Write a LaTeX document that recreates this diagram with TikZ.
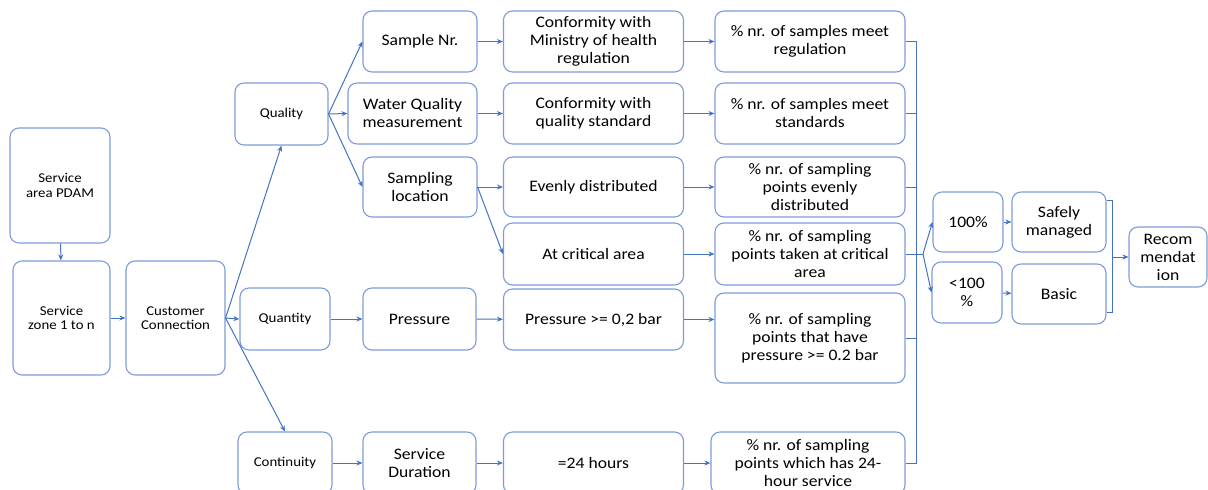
\documentclass[tikz,border=0pt]{standalone}
\usepackage{fontspec}
\setmainfont{Carlito}[FakeStretch=1.1]
\usetikzlibrary{arrows.meta}

\definecolor{boxblue}{RGB}{125,155,218}
\definecolor{lineblue}{RGB}{68,114,196}

\tikzset{%
   block/.style={
    draw=boxblue,
    line width=1.1pt,
    rounded corners=9pt,
    align=center,
    inner sep=2pt,
    text=black,
    font=\fontsize{16}{18}\selectfont
  },
   small block/.style={
    block,
    font=\fontsize{13.5}{14.5}\selectfont
  },
   link/.style={draw=lineblue, line width=1pt},
}

\begin{document}
\begin{tikzpicture}[x=1pt, y=-1pt, >={Stealth[length=6pt,width=5pt]}]
\useasboundingbox (0,0) rectangle (1208,490);
%=========================================================================================================
% Service area and customers
%=========================================================================================================
\node [small block, minimum width=100pt, minimum height=115pt] (area) at (60,185.5) {Service\\area PDAM};
\node [small block, minimum width=97pt, minimum height=114pt] (zone) at (61.5,318) {Service\\zone 1 to n};
\node [small block, minimum width=99pt, minimum height=114pt] (cust) at (175.5,318) {Customer\\Connection};

%=========================================================================================================
% Aspects
%=========================================================================================================
\node [small block, minimum width=93pt, minimum height=62pt] (quality) at (281.5,114) {Quality};
\node [small block, minimum width=90pt, minimum height=62pt] (quantity) at (285,319) {Quantity};
\node [small block, minimum width=94pt, minimum height=62pt] (continuity) at (285,463) {Continuity};

%=========================================================================================================
% Parameters
%=========================================================================================================
\node [block, minimum width=114pt, minimum height=61pt] (samplenr) at (420,41.5) {Sample Nr.};
\node [block, minimum width=129pt, minimum height=61pt] (wqm) at (412.5,113.5) {Water Quality\\measurement};
\node [block, minimum width=114pt, minimum height=60pt] (samploc) at (420,187) {Sampling\\location};
\node [block, minimum width=113pt, minimum height=62pt] (pressure) at (419.5,319) {Pressure};
\node [block, minimum width=113pt, minimum height=62pt] (duration) at (419.5,463) {Service\\Duration};

%=========================================================================================================
% Criteria
%=========================================================================================================
\foreach \n/\t/\y/\h in {conf1/{Conformity with\\Ministry of health\\regulation}/41.5/61,
                          conf2/{Conformity with\\quality standard}/113.5/61,
                          even/{Evenly distributed}/187/60,
                          critical/{At critical area}/254/62,
                          pbar/{Pressure >= 0,2 bar}/319.5/61,
                          hours/{=24 hours}/463/62}
  \node [block, minimum width=180pt, minimum height=\h pt] (\n) at (593.5,\y) {\t};

%=========================================================================================================
% Indicators
%=========================================================================================================
\foreach \t/\y/\h [count=\i] in {{\% nr. of samples meet\\regulation}/41.5/61,
                                  {\% nr. of samples meet\\standards}/113.5/61,
                                  {\% nr. of sampling\\points evenly\\distributed}/187/60,
                                  {\% nr. of sampling\\points taken at critical\\area}/254/62,
                                  {\% nr. of sampling\\points that have\\pressure >= 0.2 bar}/338/90}
  \node [block, minimum width=190pt, minimum height=\h pt] (pct\i) at (810,\y) {\t};
\node [block, minimum width=194pt, minimum height=62pt] (pct6) at (808,463) {\% nr. of sampling\\points which has 24-\\hour service};

%=========================================================================================================
% Results
%=========================================================================================================
\node [block, minimum width=70pt, minimum height=60pt] (p100) at (968,222) {100\%};
\node [block, minimum width=70pt, minimum height=61pt] (p99) at (967,292.5) {<100\\\%};
\node [block, minimum width=94pt, minimum height=60pt] (safe) at (1059,222) {Safely\\managed};
\node [block, minimum width=94pt, minimum height=60pt] (basic) at (1059,294) {Basic};
\node [block, minimum width=78pt, minimum height=60pt] (recom) at (1168,257) {Recom\\mendat\\ion};

%=========================================================================================================
% Draw connections
%=========================================================================================================
\draw [link, ->] (area) -- (zone);
\draw [link, ->] (zone) -- (cust);

%fan out of the customer connection
\foreach \j/\a in {quality/south, quantity/west, continuity/north}
  \draw [link, ->] (cust.east) -- (\j.\a);

%fan out of quality
\foreach \j in {samplenr, wqm, samploc}
  \draw [link, ->] (quality.east) -- (\j.west);

\draw [link, ->] (samploc.east) -- (even.west);
\draw [link, ->] (samploc.east) -- (critical.west);

%rows
\foreach \i/\j in {samplenr/conf1, wqm/conf2, quantity/pressure, pressure/pbar, continuity/duration, duration/hours}
  \draw [link, ->] (\i) -- (\j);
\foreach \i/\j in {conf1/pct1, conf2/pct2, even/pct3, critical/pct4, hours/pct6}
  \draw [link, ->] (\i.east) -- (\i.east -| \j.west);
\draw [link, ->] (pbar.east) -- (pbar.east -| pct5.west);

%bracket of the indicators
\coordinate (bus) at (916,0);
\coordinate (fork) at (923,254);
\draw [link] (pct1.east) -- (pct1.east -| bus) |- (pct6.east);
\foreach \i in {2,...,5}
  \draw [link] (pct\i.east) -- (pct\i.east -| bus);
\draw [link] (pct4.east -| bus) -- (fork);
\draw [link, ->] (fork) -- (p100.west);
\draw [link, ->] (fork) -- (p99.west);

\draw [link, ->] (p100) -- (safe);
\draw [link, ->] (p99) -- (basic);

%bracket of the results
\coordinate (join) at (1112,257);
\draw [link] ([yshift=-9pt]safe.north east) -| ([xshift=6pt,yshift=12pt]basic.south east) -- ([yshift=12pt]basic.south east);
\draw [link, ->] (join) -- (recom.west);

\end{tikzpicture}
\end{document}
